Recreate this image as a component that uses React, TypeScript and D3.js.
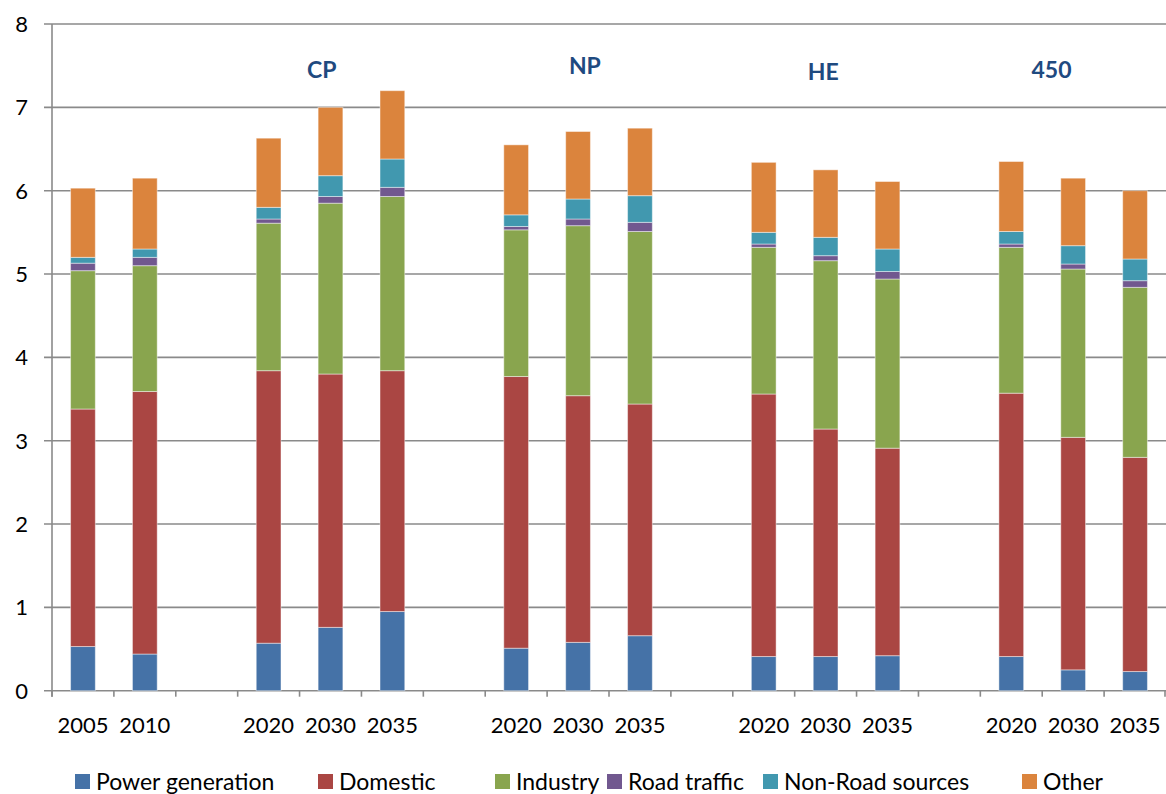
import React from 'react';
import * as d3 from 'd3';

// slots on the x axis, empty strings are the gaps between scenarios
const years = ['2005', '2010', '', '2020', '2030', '2035', '', '2020', '2030', '2035', '', '2020', '2030', '2035', '', '2020', '2030', '2035'];

const powerGeneration = [0.53, 0.44, 0, 0.57, 0.76, 0.95, 0, 0.51, 0.58, 0.66, 0, 0.41, 0.41, 0.42, 0, 0.41, 0.25, 0.23];
const domestic = [2.85, 3.15, 0, 3.27, 3.04, 2.89, 0, 3.26, 2.96, 2.78, 0, 3.15, 2.73, 2.49, 0, 3.16, 2.79, 2.57];
const industry = [1.66, 1.51, 0, 1.77, 2.05, 2.09, 0, 1.76, 2.04, 2.07, 0, 1.76, 2.02, 2.03, 0, 1.75, 2.02, 2.04];
const roadTraffic = [0.09, 0.10, 0, 0.05, 0.08, 0.11, 0, 0.04, 0.08, 0.11, 0, 0.04, 0.06, 0.09, 0, 0.04, 0.06, 0.08];
const nonRoad = [0.07, 0.10, 0, 0.14, 0.25, 0.34, 0, 0.14, 0.24, 0.32, 0, 0.14, 0.22, 0.27, 0, 0.15, 0.22, 0.26];
const other = [0.83, 0.85, 0, 0.83, 0.82, 0.82, 0, 0.84, 0.81, 0.81, 0, 0.84, 0.81, 0.81, 0, 0.84, 0.81, 0.82];

const seriesNames = ['Power generation', 'Domestic', 'Industry', 'Road traffic', 'Non-Road sources', 'Other'];
const seriesColors = ['#4572A7', '#AA4643', '#89A54E', '#71588F', '#4198AF', '#DB843D'];

// scenario labels, placed as free text boxes over the groups
const scenarios = ['CP', 'NP', 'HE', '450'];
const scenarioPos = [4.36, 8.61, 12.46, 16.15]; // in slot units
const scenarioY = [70, 66, 72, 70];

const yTicks = [0, 1, 2, 3, 4, 5, 6, 7, 8];

// legend layout (x of each swatch)
const legendX = [75, 318, 495, 607, 763, 1022];

const W = 1166;
const H = 794;
const font = 'Lato, "Open Sans", sans-serif';

const App: React.FC = () => {
  const allSeries = [powerGeneration, domestic, industry, roadTraffic, nonRoad, other];
  const rows = years.map((_, i) => {
    const r: Record<string, number> = { idx: i };
    seriesNames.forEach((s, k) => (r[s] = allSeries[k][i]));
    return r;
  });
  const stacked = d3.stack<Record<string, number>>().keys(seriesNames)(rows);

  const x = d3.scaleBand<number>()
    .domain(years.map((_, i) => i))
    .range([52, 1166]);
  const xs = d3.scaleLinear().domain([0, years.length]).range([52, 1166]);
  const y = d3.scaleLinear().domain([0, 8]).range([690.7, 24]);

  const bw = x.bandwidth() * 0.4;

  return (
    <svg width={W} height={H} style={{ position: 'absolute', left: 0, top: 0, background: '#fff' }}>
      {/* grid */}
      {yTicks.map(t => (
        <g key={t}>
          <line x1={44} x2={W} y1={y(t)} y2={y(t)} stroke="#8a8a8a" strokeWidth={1.6} />
          <text x={28} y={y(t)} dy="0.36em" textAnchor="end" fontFamily={font} fontSize={22} fill="#000">{t}</text>
        </g>
      ))}
      <line x1={52} x2={52} y1={y(8)} y2={y(0) + 6} stroke="#8a8a8a" strokeWidth={1.6} />
      {/* x ticks at band boundaries */}
      {years.map((_, i) => (
        <line key={i} x1={x(i)!} x2={x(i)!} y1={y(0)} y2={y(0) + 6} stroke="#8a8a8a" strokeWidth={1.6} />
      ))}
      <line x1={1165} x2={1165} y1={y(0)} y2={y(0) + 6} stroke="#8a8a8a" strokeWidth={1.6} />

      {/* bars */}
      {stacked.map((layer, k) => (
        <g key={layer.key} fill={seriesColors[k]}>
          {layer.map((d, i) => (d[1] - d[0] > 0 ? (
            <rect key={i}
              x={x(i)! + (x.bandwidth() - bw) / 2}
              y={y(d[1])}
              width={bw}
              height={y(d[0]) - y(d[1])}
              stroke="rgba(255,255,255,0.45)"
              strokeWidth={1}
            />
          ) : null))}
        </g>
      ))}

      {/* x labels */}
      {years.map((yr, i) => yr ? (
        <text key={i} x={x(i)! + x.bandwidth() / 2} y={733} textAnchor="middle" fontFamily={font} fontSize={22} fill="#000">{yr}</text>
      ) : null)}

      {/* scenario labels */}
      {scenarios.map((s, i) => (
        <text key={s} x={xs(scenarioPos[i])} y={scenarioY[i]} dy="0.36em" textAnchor="middle"
          fontFamily={font} fontSize={23} fontWeight="bold" fill="#1F4A80">{s}</text>
      ))}

      {/* legend */}
      {seriesNames.map((s, k) => (
        <g key={s} transform={`translate(${legendX[k]},774)`}>
          <rect width={15} height={15} fill={seriesColors[k]} />
          <text x={21} y={7.5} dy="0.36em" fontFamily={font} fontSize={23} fill="#000">{s}</text>
        </g>
      ))}
    </svg>
  );
};

export default App;
